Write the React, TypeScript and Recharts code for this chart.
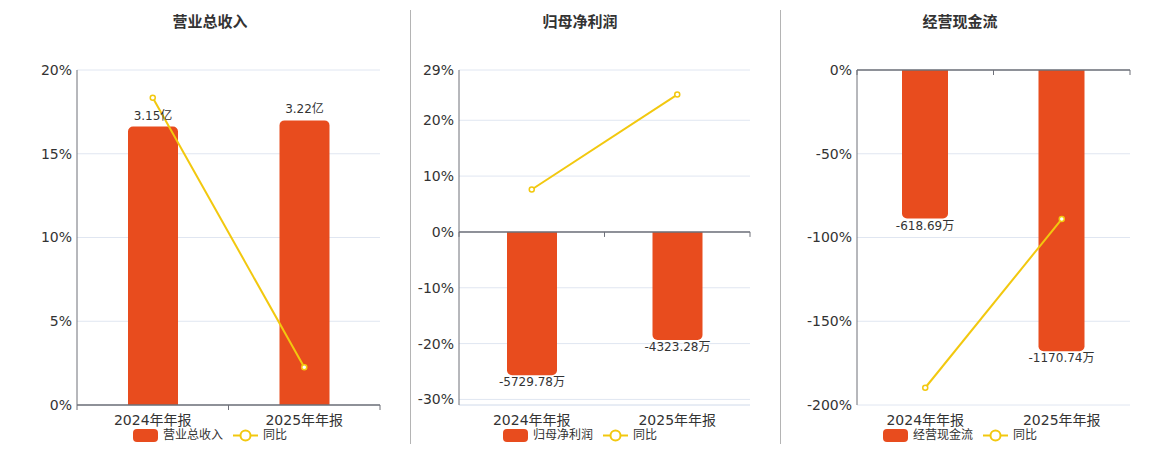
import React from 'react'
import {
  ComposedChart, Bar, Line, XAxis, YAxis, CartesianGrid, ReferenceLine, LabelList,
} from 'recharts'

const periods = ['2024年年报', '2025年年报']

// 营业总收入 (亿) and 同比 (%)
const revenue = [3.15, 3.22]
const revenueYoY = [18.35, 2.25]
const revenueTicks = [0, 5, 10, 15, 20]

// 归母净利润 (万) and 同比 (%)
const netProfit = [-5729.78, -4323.28]
const netProfitYoY = [7.6, 24.6]
const netProfitTicks = [-30, -20, -10, 0, 10, 20, 29]

// 经营现金流 (万) and 同比 (%)
const cashFlow = [-618.69, -1170.74]
const cashFlowYoY = [-189.7, -89.0]
const cashFlowTicks = [-200, -150, -100, -50, 0]

const BAR = '#E84C1E'
const LINE = '#F2C80F'
const AXIS = '#6E7079'
const GRID = '#E0E6F1'
const TEXT = '#333333'
const FONT = "'DejaVu Sans', 'Noto Sans CJK SC', sans-serif"

const panels = [
  {
    title: '营业总收入', bars: revenue, yoy: revenueYoY, unit: '亿', ticks: revenueTicks,
    pctDomain: [0, 20], barDomain: [0, 3.79], left: 0, width: 400, yWidth: 77, barSize: 50, center: 210,
  },
  {
    title: '归母净利润', bars: netProfit, yoy: netProfitYoY, unit: '万', ticks: netProfitTicks,
    pctDomain: [-31, 29], barDomain: [-6921, 6474], left: 410, width: 360, yWidth: 49, barSize: 50, center: 580,
    bottomGrid: -31,
  },
  {
    title: '经营现金流', bars: cashFlow, yoy: cashFlowYoY, unit: '万', ticks: cashFlowTicks,
    pctDomain: [-200, 0], barDomain: [-1395, 0], left: 781, width: 369, yWidth: 76, barSize: 46, center: 960,
  },
]

function ZeroAxis(props: any) {
  const { x1, x2, y1 } = props
  const mid = (x1 + x2) / 2
  return (
    <g>
      <line x1={x1} x2={x2} y1={y1} y2={y1} stroke={AXIS} strokeWidth={1.5} />
      {[x1, mid, x2].map((x: number, i: number) => (
        <line key={i} x1={x} x2={x} y1={y1} y2={y1 + 5} stroke={AXIS} strokeWidth={1} />
      ))}
    </g>
  )
}

const makeLabel = (unit: string) => (props: any) => {
  const vb = props.viewBox ?? props
  const { x, y, width, height } = vb
  const value = Number(props.value)
  const top = Math.min(y, y + height)
  const bottom = Math.max(y, y + height)
  const ty = value >= 0 ? top - 11 : bottom + 7
  return (
    <text
      x={x + width / 2}
      y={ty}
      textAnchor="middle"
      dominantBaseline="central"
      fill={TEXT}
      fontSize={12}
      fontFamily={FONT}
    >
      {`${value.toFixed(2)}${unit}`}
    </text>
  )
}

function Panel({ p }: { p: typeof panels[number] }) {
  const rows = periods.map((period, i) => ({ period, value: p.bars[i], yoy: p.yoy[i] }))
  return (
    <>
      <div
        style={{
          position: 'absolute', left: p.center - 100, width: 200, top: 12, textAlign: 'center',
          fontSize: 15, fontWeight: 'bold', color: TEXT, lineHeight: '20px', fontFamily: FONT,
        }}
      >
        {p.title}
      </div>
      <div style={{ position: 'absolute', left: p.left, top: 0 }}>
        <ComposedChart
          width={p.width}
          height={450}
          data={rows}
          margin={{ top: 70, right: 20, bottom: 0, left: 0 }}
          style={{ fontFamily: FONT }}
        >
          <CartesianGrid vertical={false} stroke={GRID} />
          <XAxis
            dataKey="period"
            axisLine={false}
            tickLine={false}
            tickSize={0}
            tickMargin={10}
            height={45}
            interval={0}
            tick={{ fill: TEXT, fontSize: 14, fontFamily: FONT }}
          />
          <YAxis
            type="number"
            domain={p.pctDomain}
            ticks={p.ticks}
            allowDataOverflow
            interval={0}
            width={p.yWidth}
            axisLine={{ stroke: AXIS, strokeWidth: 1 }}
            tickLine={false}
            tickSize={0}
            tickMargin={5}
            tickFormatter={(v: number) => `${v}%`}
            tick={{ fill: TEXT, fontSize: 14, fontFamily: FONT }}
          />
          <YAxis yAxisId="bar" type="number" hide domain={p.barDomain} allowDataOverflow />
          {p.bottomGrid !== undefined && (
            <ReferenceLine y={p.bottomGrid} stroke={GRID} strokeWidth={1} />
          )}
          <Bar
            yAxisId="bar"
            dataKey="value"
            name={p.title}
            fill={BAR}
            barSize={p.barSize}
            radius={[5, 5, 0, 0]}
            isAnimationActive={false}
          >
            <LabelList dataKey="value" content={makeLabel(p.unit)} />
          </Bar>
          <ReferenceLine y={0} shape={ZeroAxis} />
          <Line
            dataKey="yoy"
            name="同比"
            stroke={LINE}
            strokeWidth={2}
            dot={{ r: 2.5, fill: '#fff', stroke: LINE, strokeWidth: 1.5 }}
            activeDot={false}
            isAnimationActive={false}
          />
        </ComposedChart>
      </div>
      <div
        style={{
          position: 'absolute', left: p.center - 150, width: 300, top: 429, height: 13,
          display: 'flex', justifyContent: 'center', alignItems: 'center',
          fontSize: 12, color: TEXT, fontFamily: FONT, lineHeight: '13px',
        }}
      >
        <span style={{ width: 25, height: 13, borderRadius: 4, background: BAR, display: 'inline-block' }} />
        <span style={{ marginLeft: 5 }}>{p.title}</span>
        <svg width={25} height={13} style={{ marginLeft: 10 }}>
          <line x1={0} x2={25} y1={6.5} y2={6.5} stroke={LINE} strokeWidth={2} />
          <circle cx={12.5} cy={6.5} r={5} fill="#fff" stroke={LINE} strokeWidth={2} />
        </svg>
        <span style={{ marginLeft: 5 }}>同比</span>
      </div>
    </>
  )
}

export default function App() {
  return (
    <div
      style={{
        position: 'fixed', left: 0, top: 0, width: 1160, height: 450,
        background: '#fff', overflow: 'hidden', fontFamily: FONT,
      }}
    >
      {panels.map(p => <Panel key={p.title} p={p} />)}
      <div style={{ position: 'absolute', left: 410, top: 10, width: 1, height: 434, background: '#B4B4B4' }} />
      <div style={{ position: 'absolute', left: 780, top: 10, width: 1, height: 434, background: '#B4B4B4' }} />
    </div>
  )
}
